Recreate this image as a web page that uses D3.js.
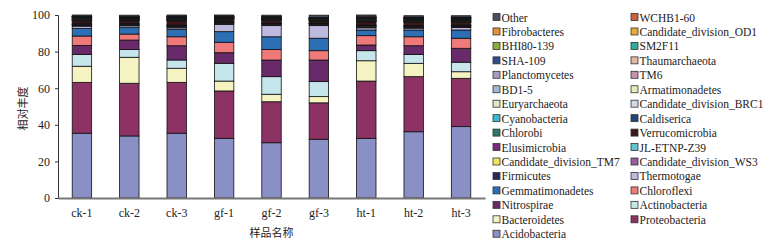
<!DOCTYPE html>
<html>
<head>
<meta charset="utf-8">
<script src="https://cdn.jsdelivr.net/npm/d3@7"></script>
<style>
  body { margin: 0; background: #fff; }
  svg text { font-family: "Liberation Serif", "Times New Roman", serif; fill: #222; }
  .cjk { font-family: "Noto Sans CJK SC", sans-serif; }
</style>
</head>
<body>
<svg id="chart" width="784" height="246"></svg>
<script>
// samples along the x axis
const samples = ["ck-1", "ck-2", "ck-3", "gf-1", "gf-2", "gf-3", "ht-1", "ht-2", "ht-3"];

// series in stacking order (bottom -> top)
const phyla = [
  "Acidobacteria", "Proteobacteria", "Bacteroidetes", "Actinobacteria", "Nitrospirae",
  "Chloroflexi", "Gemmatimonadetes", "Thermotogae", "Firmicutes", "Candidate_division_WS3",
  "Candidate_division_TM7", "JL-ETNP-Z39", "Elusimicrobia", "Verrucomicrobia", "Chlorobi",
  "Caldiserica", "Cyanobacteria", "Candidate_division_BRC1", "Euryarchaeota", "Armatimonadetes",
  "BD1-5", "TM6", "Planctomycetes", "Thaumarchaeota", "SHA-109",
  "SM2F11", "BHI80-139", "Candidate_division_OD1", "Fibrobacteres", "WCHB1-60", "Other"
];

const colors = [
  "#8a90c6", "#8c3264", "#f6f3c2", "#c6e6ec", "#682a68",
  "#f07a7a", "#2c6fb5", "#bcbadf", "#2b2a52", "#9a5a9c",
  "#efe65e", "#5fc6cf", "#7a2b80", "#3e1818", "#2f7868",
  "#1f4677", "#3fb6cf", "#d0dbe7", "#dde7c2", "#e6ebb8",
  "#9fb7cf", "#c88fb0", "#a89ac4", "#e7b79f", "#2f4d8d",
  "#2fae9e", "#8bae42", "#e7ae30", "#e88f3a", "#cf5f3a", "#4b4b63"
];

// relative abundance (%), one row per phylum, columns follow `samples`
const abundance = [
  [35.4, 33.9, 35.4, 32.6, 30.2, 32.1, 32.6, 36.2, 39.0], // Acidobacteria
  [27.8, 28.8, 27.8, 25.9, 22.4, 19.9, 31.3, 30.1, 26.4], // Proteobacteria
  [ 8.8, 14.2,  7.7,  5.4,  4.1,  3.4, 11.1,  7.3,  3.6], // Bacteroidetes
  [ 6.5,  4.3,  4.5,  9.7,  9.6,  8.2,  5.5,  4.9,  5.2], // Actinobacteria
  [ 4.9,  5.1,  7.8,  5.8,  9.1, 11.8,  3.1,  4.7,  7.6], // Nitrospirae
  [ 5.1,  3.3,  4.9,  5.7,  5.8,  5.1,  5.1,  4.9,  5.5], // Chloroflexi
  [ 4.2,  3.5,  4.1,  5.8,  6.9,  6.8,  3.1,  3.7,  4.5], // Gemmatimonadetes
  [ 1.2,  1.0,  0.8,  4.0,  6.1,  6.9,  1.2,  1.0,  1.4], // Thermotogae
  [ 0.6,  0.5,  0.8,  0.6,  0.8,  0.8,  0.6,  0.6,  0.6], // Firmicutes
  [ 0.2,  0.2,  0.2,  0.2,  0.2,  0.2,  0.2,  0.2,  0.2], // WS3
  [ 0.2,  0.2,  0.2,  0.4,  0.2,  0.2,  0.4,  0.2,  0.2], // TM7
  [ 0.1,  0.1,  0.1,  0.1,  0.1,  0.1,  0.1,  0.1,  0.1], // JL-ETNP-Z39
  [ 0.3,  0.2,  0.3,  0.2,  0.2,  0.2,  0.3,  0.3,  0.3], // Elusimicrobia
  [ 1.4,  1.5,  2.2,  1.0,  1.4,  1.0,  1.6,  1.8,  1.4], // Verrucomicrobia
  [ 0.2,  0.2,  0.2,  0.2,  0.2,  0.2,  0.2,  0.2,  0.2], // Chlorobi
  [ 0.2,  0.2,  0.2,  0.2,  0.2,  0.2,  0.2,  0.2,  0.2], // Caldiserica
  [ 0.1,  0.1,  0.1,  0.1,  0.1,  0.1,  0.1,  0.1,  0.1], // Cyanobacteria
  [ 0.2,  0.2,  0.2,  0.1,  0.1,  0.1,  0.2,  0.2,  0.2], // BRC1
  [ 0.1,  0.1,  0.1,  0.1,  0.1,  0.1,  0.2,  0.2,  0.2], // Euryarchaeota
  [ 0.2,  0.1,  0.2,  0.1,  0.1,  0.1,  0.2,  0.2,  0.2], // Armatimonadetes
  [ 0.2,  0.2,  0.2,  0.1,  0.1,  0.1,  0.2,  0.2,  0.2], // BD1-5
  [ 0.1,  0.1,  0.1,  0.1,  0.1,  0.1,  0.1,  0.1,  0.1], // TM6
  [ 0.5,  0.4,  0.4,  0.3,  0.3,  0.3,  0.5,  0.5,  0.5], // Planctomycetes
  [ 0.1,  0.1,  0.1,  0.1,  0.1,  0.1,  0.2,  0.2,  0.2], // Thaumarchaeota
  [ 0.2,  0.1,  0.2,  0.1,  0.1,  0.1,  0.2,  0.2,  0.2], // SHA-109
  [ 0.1,  0.1,  0.1,  0.1,  0.1,  0.1,  0.1,  0.1,  0.1], // SM2F11
  [ 0.1,  0.1,  0.1,  0.1,  0.1,  0.1,  0.1,  0.1,  0.1], // BHI80-139
  [ 0.1,  0.1,  0.1,  0.1,  0.1,  0.1,  0.1,  0.1,  0.1], // OD1
  [ 0.1,  0.1,  0.1,  0.1,  0.1,  0.1,  0.1,  0.1,  0.1], // Fibrobacteres
  [ 0.1,  0.1,  0.1,  0.1,  0.1,  0.1,  0.1,  0.1,  0.1], // WCHB1-60
  [ 0.8,  0.8,  0.7,  0.7,  0.8,  1.2,  1.0,  0.8,  0.8]  // Other
];

// legend order as printed: two columns, read row by row
const legendCol1 = [
  "Other", "Fibrobacteres", "BHI80-139", "SHA-109", "Planctomycetes", "BD1-5",
  "Euryarchaeota", "Cyanobacteria", "Chlorobi", "Elusimicrobia", "Candidate_division_TM7",
  "Firmicutes", "Gemmatimonadetes", "Nitrospirae", "Bacteroidetes", "Acidobacteria"
];
const legendCol2 = [
  "WCHB1-60", "Candidate_division_OD1", "SM2F11", "Thaumarchaeota", "TM6",
  "Armatimonadetes", "Candidate_division_BRC1", "Caldiserica", "Verrucomicrobia",
  "JL-ETNP-Z39", "Candidate_division_WS3", "Thermotogae", "Chloroflexi",
  "Actinobacteria", "Proteobacteria"
];

const yTicks = [0, 20, 40, 60, 80, 100];

const svg = d3.select("#chart");
const margin = { left: 58, top: 15, right: 299, bottom: 48 };
const width = 784 - margin.left - margin.right;
const height = 246 - margin.top - margin.bottom;

const g = svg.append("g").attr("transform", `translate(${margin.left},${margin.top})`);

// build table rows for the stack
const table = samples.map((s, j) => {
  const row = { sample: s };
  phyla.forEach((p, i) => { row[p] = abundance[i][j]; });
  return row;
});

const stack = d3.stack().keys(phyla);
const layers = stack(table);

const x = d3.scaleBand().domain(samples).range([0, width]).paddingInner(0.59).paddingOuter(0.3);
const y = d3.scaleLinear().domain([0, 100]).range([height, 0]);
const color = d3.scaleOrdinal().domain(phyla).range(colors);

// bars
g.selectAll("g.layer")
  .data(layers)
  .join("g")
  .attr("class", "layer")
  .attr("fill", (d) => color(d.key))
  .selectAll("rect")
  .data((d) => d)
  .join("rect")
  .attr("x", (d) => x(d.data.sample))
  .attr("width", x.bandwidth())
  .attr("y", (d) => y(Math.min(d[1], 100)))
  .attr("height", (d) => Math.max(0, y(d[0]) - y(Math.min(d[1], 100))))
  .attr("stroke", "#111")
  .attr("stroke-width", 0.8);

// y axis
const yAxis = g.append("g")
  .call(d3.axisLeft(y).tickValues(yTicks).tickSize(3).tickPadding(5));
yAxis.select(".domain").attr("stroke", "#333").attr("stroke-width", 1);
yAxis.selectAll(".tick line").attr("stroke", "#333");
yAxis.selectAll("text").style("font-size", "12px").attr("fill", "#222");

// x axis
const xAxis = g.append("g")
  .attr("transform", `translate(0,${height})`)
  .call(d3.axisBottom(x).tickSize(0).tickPadding(10));
xAxis.select(".domain").attr("stroke", "#777").attr("stroke-width", 2);
xAxis.selectAll("text").style("font-size", "12px").attr("fill", "#222");

// axis titles
svg.append("text")
  .attr("class", "cjk")
  .attr("transform", `translate(27,${margin.top + height / 2 + 2}) rotate(-90)`)
  .attr("text-anchor", "middle")
  .style("font-size", "11px")
  .attr("fill", "#333")
  .text("相对丰度");

svg.append("text")
  .attr("class", "cjk")
  .attr("x", margin.left + width / 2)
  .attr("y", 237)
  .attr("text-anchor", "middle")
  .style("font-size", "11px")
  .attr("fill", "#333")
  .text("样品名称");

// legend
const legendCols = [
  { items: legendCol1, x: 493 },
  { items: legendCol2, x: 631 }
];
legendCols.forEach((col) => {
  const lg = svg.append("g").attr("transform", `translate(${col.x},17.5)`);
  const rows = lg.selectAll("g")
    .data(col.items)
    .join("g")
    .attr("transform", (d, i) => `translate(0,${i * 14.45})`);
  rows.append("rect")
    .attr("x", 0)
    .attr("y", -4)
    .attr("width", 7)
    .attr("height", 7)
    .attr("fill", (d) => color(d))
    .attr("stroke", "#333")
    .attr("stroke-width", 0.8);
  rows.append("text")
    .attr("x", 8.5)
    .attr("y", 4)
    .style("font-size", "11.5px")
    .text((d) => d);
});
</script>
</body>
</html>
